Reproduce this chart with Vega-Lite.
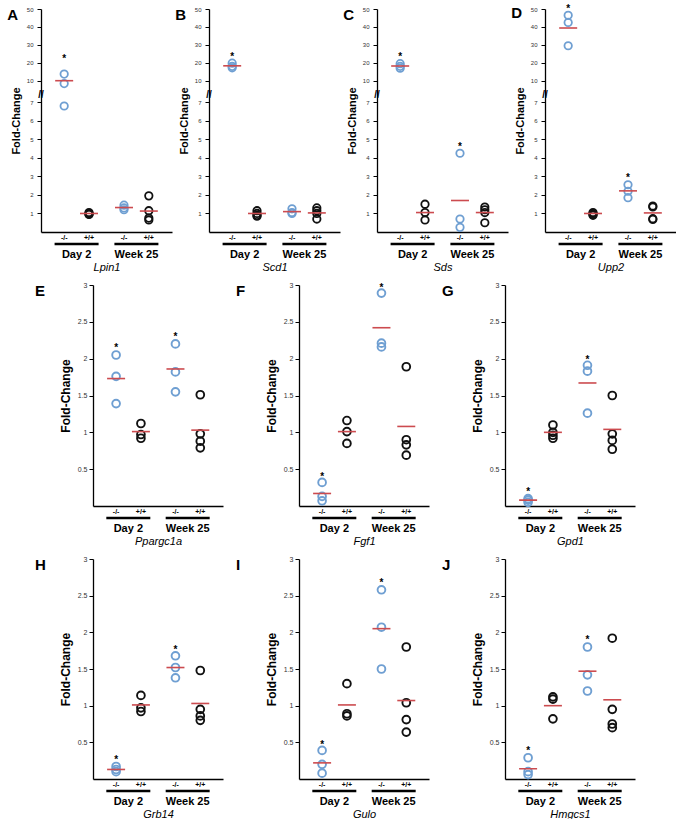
{
"$schema":"https://vega.github.io/schema/vega-lite/v6.json",
"background":"white",
"padding":{"left":7,"top":4,"right":0,"bottom":0},
"datasets":{
"pts":[
{"gene":"Lpin1","time":"Day 2","geno":"-/-","value":13.7},{"gene":"Lpin1","time":"Day 2","geno":"-/-","value":9.6},{"gene":"Lpin1","time":"Day 2","geno":"-/-","value":6.8},
{"gene":"Lpin1","time":"Day 2","geno":"+/+","value":1.05},{"gene":"Lpin1","time":"Day 2","geno":"+/+","value":1.0},{"gene":"Lpin1","time":"Day 2","geno":"+/+","value":0.97},{"gene":"Lpin1","time":"Day 2","geno":"+/+","value":0.95},
{"gene":"Lpin1","time":"Week 25","geno":"-/-","value":1.45},{"gene":"Lpin1","time":"Week 25","geno":"-/-","value":1.3},{"gene":"Lpin1","time":"Week 25","geno":"-/-","value":1.2},
{"gene":"Lpin1","time":"Week 25","geno":"+/+","value":1.95},{"gene":"Lpin1","time":"Week 25","geno":"+/+","value":1.15},{"gene":"Lpin1","time":"Week 25","geno":"+/+","value":0.75},{"gene":"Lpin1","time":"Week 25","geno":"+/+","value":0.65},
{"gene":"Scd1","time":"Day 2","geno":"-/-","value":19.8},{"gene":"Scd1","time":"Day 2","geno":"-/-","value":18},{"gene":"Scd1","time":"Day 2","geno":"-/-","value":17.2},
{"gene":"Scd1","time":"Day 2","geno":"+/+","value":1.15},{"gene":"Scd1","time":"Day 2","geno":"+/+","value":1.0},{"gene":"Scd1","time":"Day 2","geno":"+/+","value":0.9},{"gene":"Scd1","time":"Day 2","geno":"+/+","value":0.85},
{"gene":"Scd1","time":"Week 25","geno":"-/-","value":1.25},{"gene":"Scd1","time":"Week 25","geno":"-/-","value":1.05},{"gene":"Scd1","time":"Week 25","geno":"-/-","value":1.0},
{"gene":"Scd1","time":"Week 25","geno":"+/+","value":1.3},{"gene":"Scd1","time":"Week 25","geno":"+/+","value":1.15},{"gene":"Scd1","time":"Week 25","geno":"+/+","value":1.0},{"gene":"Scd1","time":"Week 25","geno":"+/+","value":0.7},
{"gene":"Sds","time":"Day 2","geno":"-/-","value":19.5},{"gene":"Sds","time":"Day 2","geno":"-/-","value":18},{"gene":"Sds","time":"Day 2","geno":"-/-","value":17},
{"gene":"Sds","time":"Day 2","geno":"+/+","value":1.5},{"gene":"Sds","time":"Day 2","geno":"+/+","value":1.05},{"gene":"Sds","time":"Day 2","geno":"+/+","value":0.65},
{"gene":"Sds","time":"Week 25","geno":"-/-","value":4.25},{"gene":"Sds","time":"Week 25","geno":"-/-","value":0.7},{"gene":"Sds","time":"Week 25","geno":"-/-","value":0.25},
{"gene":"Sds","time":"Week 25","geno":"+/+","value":1.35},{"gene":"Sds","time":"Week 25","geno":"+/+","value":1.2},{"gene":"Sds","time":"Week 25","geno":"+/+","value":1.05},{"gene":"Sds","time":"Week 25","geno":"+/+","value":0.5},
{"gene":"Upp2","time":"Day 2","geno":"-/-","value":46.5},{"gene":"Upp2","time":"Day 2","geno":"-/-","value":42.5},{"gene":"Upp2","time":"Day 2","geno":"-/-","value":29.5},
{"gene":"Upp2","time":"Day 2","geno":"+/+","value":1.05},{"gene":"Upp2","time":"Day 2","geno":"+/+","value":1.0},{"gene":"Upp2","time":"Day 2","geno":"+/+","value":0.95},{"gene":"Upp2","time":"Day 2","geno":"+/+","value":0.9},
{"gene":"Upp2","time":"Week 25","geno":"-/-","value":2.55},{"gene":"Upp2","time":"Week 25","geno":"-/-","value":2.2},{"gene":"Upp2","time":"Week 25","geno":"-/-","value":1.85},
{"gene":"Upp2","time":"Week 25","geno":"+/+","value":1.4},{"gene":"Upp2","time":"Week 25","geno":"+/+","value":1.35},{"gene":"Upp2","time":"Week 25","geno":"+/+","value":0.72},{"gene":"Upp2","time":"Week 25","geno":"+/+","value":0.68},
{"gene":"Ppargc1a","time":"Day 2","geno":"-/-","value":2.05},{"gene":"Ppargc1a","time":"Day 2","geno":"-/-","value":1.76},{"gene":"Ppargc1a","time":"Day 2","geno":"-/-","value":1.39},
{"gene":"Ppargc1a","time":"Day 2","geno":"+/+","value":1.12},{"gene":"Ppargc1a","time":"Day 2","geno":"+/+","value":0.97},{"gene":"Ppargc1a","time":"Day 2","geno":"+/+","value":0.92},
{"gene":"Ppargc1a","time":"Week 25","geno":"-/-","value":2.2},{"gene":"Ppargc1a","time":"Week 25","geno":"-/-","value":1.82},{"gene":"Ppargc1a","time":"Week 25","geno":"-/-","value":1.55},
{"gene":"Ppargc1a","time":"Week 25","geno":"+/+","value":1.51},{"gene":"Ppargc1a","time":"Week 25","geno":"+/+","value":0.98},{"gene":"Ppargc1a","time":"Week 25","geno":"+/+","value":0.88},{"gene":"Ppargc1a","time":"Week 25","geno":"+/+","value":0.79},
{"gene":"Fgf1","time":"Day 2","geno":"-/-","value":0.32},{"gene":"Fgf1","time":"Day 2","geno":"-/-","value":0.13},{"gene":"Fgf1","time":"Day 2","geno":"-/-","value":0.07},
{"gene":"Fgf1","time":"Day 2","geno":"+/+","value":1.16},{"gene":"Fgf1","time":"Day 2","geno":"+/+","value":1.01},{"gene":"Fgf1","time":"Day 2","geno":"+/+","value":0.85},
{"gene":"Fgf1","time":"Week 25","geno":"-/-","value":2.89},{"gene":"Fgf1","time":"Week 25","geno":"-/-","value":2.21},{"gene":"Fgf1","time":"Week 25","geno":"-/-","value":2.16},
{"gene":"Fgf1","time":"Week 25","geno":"+/+","value":1.89},{"gene":"Fgf1","time":"Week 25","geno":"+/+","value":0.9},{"gene":"Fgf1","time":"Week 25","geno":"+/+","value":0.83},{"gene":"Fgf1","time":"Week 25","geno":"+/+","value":0.69},
{"gene":"Gpd1","time":"Day 2","geno":"-/-","value":0.1},{"gene":"Gpd1","time":"Day 2","geno":"-/-","value":0.08},{"gene":"Gpd1","time":"Day 2","geno":"-/-","value":0.05},
{"gene":"Gpd1","time":"Day 2","geno":"+/+","value":1.1},{"gene":"Gpd1","time":"Day 2","geno":"+/+","value":1.0},{"gene":"Gpd1","time":"Day 2","geno":"+/+","value":0.96},{"gene":"Gpd1","time":"Day 2","geno":"+/+","value":0.92},
{"gene":"Gpd1","time":"Week 25","geno":"-/-","value":1.91},{"gene":"Gpd1","time":"Week 25","geno":"-/-","value":1.83},{"gene":"Gpd1","time":"Week 25","geno":"-/-","value":1.26},
{"gene":"Gpd1","time":"Week 25","geno":"+/+","value":1.5},{"gene":"Gpd1","time":"Week 25","geno":"+/+","value":0.98},{"gene":"Gpd1","time":"Week 25","geno":"+/+","value":0.89},{"gene":"Gpd1","time":"Week 25","geno":"+/+","value":0.77},
{"gene":"Grb14","time":"Day 2","geno":"-/-","value":0.17},{"gene":"Grb14","time":"Day 2","geno":"-/-","value":0.13},{"gene":"Grb14","time":"Day 2","geno":"-/-","value":0.1},
{"gene":"Grb14","time":"Day 2","geno":"+/+","value":1.14},{"gene":"Grb14","time":"Day 2","geno":"+/+","value":0.97},{"gene":"Grb14","time":"Day 2","geno":"+/+","value":0.92},
{"gene":"Grb14","time":"Week 25","geno":"-/-","value":1.68},{"gene":"Grb14","time":"Week 25","geno":"-/-","value":1.52},{"gene":"Grb14","time":"Week 25","geno":"-/-","value":1.38},
{"gene":"Grb14","time":"Week 25","geno":"+/+","value":1.48},{"gene":"Grb14","time":"Week 25","geno":"+/+","value":0.95},{"gene":"Grb14","time":"Week 25","geno":"+/+","value":0.86},{"gene":"Grb14","time":"Week 25","geno":"+/+","value":0.8},
{"gene":"Gulo","time":"Day 2","geno":"-/-","value":0.39},{"gene":"Gulo","time":"Day 2","geno":"-/-","value":0.2},{"gene":"Gulo","time":"Day 2","geno":"-/-","value":0.08},
{"gene":"Gulo","time":"Day 2","geno":"+/+","value":1.3},{"gene":"Gulo","time":"Day 2","geno":"+/+","value":0.89},{"gene":"Gulo","time":"Day 2","geno":"+/+","value":0.86},
{"gene":"Gulo","time":"Week 25","geno":"-/-","value":2.58},{"gene":"Gulo","time":"Week 25","geno":"-/-","value":2.07},{"gene":"Gulo","time":"Week 25","geno":"-/-","value":1.5},
{"gene":"Gulo","time":"Week 25","geno":"+/+","value":1.8},{"gene":"Gulo","time":"Week 25","geno":"+/+","value":1.04},{"gene":"Gulo","time":"Week 25","geno":"+/+","value":0.81},{"gene":"Gulo","time":"Week 25","geno":"+/+","value":0.64},
{"gene":"Hmgcs1","time":"Day 2","geno":"-/-","value":0.29},{"gene":"Hmgcs1","time":"Day 2","geno":"-/-","value":0.1},{"gene":"Hmgcs1","time":"Day 2","geno":"-/-","value":0.06},
{"gene":"Hmgcs1","time":"Day 2","geno":"+/+","value":1.12},{"gene":"Hmgcs1","time":"Day 2","geno":"+/+","value":1.09},{"gene":"Hmgcs1","time":"Day 2","geno":"+/+","value":0.82},
{"gene":"Hmgcs1","time":"Week 25","geno":"-/-","value":1.8},{"gene":"Hmgcs1","time":"Week 25","geno":"-/-","value":1.42},{"gene":"Hmgcs1","time":"Week 25","geno":"-/-","value":1.2},
{"gene":"Hmgcs1","time":"Week 25","geno":"+/+","value":1.92},{"gene":"Hmgcs1","time":"Week 25","geno":"+/+","value":0.95},{"gene":"Hmgcs1","time":"Week 25","geno":"+/+","value":0.75},{"gene":"Hmgcs1","time":"Week 25","geno":"+/+","value":0.7}
],
"means":[
{"gene":"Lpin1","time":"Day 2","geno":"-/-","value":10.0},{"gene":"Lpin1","time":"Day 2","geno":"+/+","value":1.0},{"gene":"Lpin1","time":"Week 25","geno":"-/-","value":1.32},{"gene":"Lpin1","time":"Week 25","geno":"+/+","value":1.13},
{"gene":"Scd1","time":"Day 2","geno":"-/-","value":18.3},{"gene":"Scd1","time":"Day 2","geno":"+/+","value":1.0},{"gene":"Scd1","time":"Week 25","geno":"-/-","value":1.1},{"gene":"Scd1","time":"Week 25","geno":"+/+","value":1.03},
{"gene":"Sds","time":"Day 2","geno":"-/-","value":18.2},{"gene":"Sds","time":"Day 2","geno":"+/+","value":1.05},{"gene":"Sds","time":"Week 25","geno":"-/-","value":1.7},{"gene":"Sds","time":"Week 25","geno":"+/+","value":1.05},
{"gene":"Upp2","time":"Day 2","geno":"-/-","value":39.4},{"gene":"Upp2","time":"Day 2","geno":"+/+","value":1.0},{"gene":"Upp2","time":"Week 25","geno":"-/-","value":2.22},{"gene":"Upp2","time":"Week 25","geno":"+/+","value":1.03},
{"gene":"Ppargc1a","time":"Day 2","geno":"-/-","value":1.73},{"gene":"Ppargc1a","time":"Day 2","geno":"+/+","value":1.01},{"gene":"Ppargc1a","time":"Week 25","geno":"-/-","value":1.86},{"gene":"Ppargc1a","time":"Week 25","geno":"+/+","value":1.03},
{"gene":"Fgf1","time":"Day 2","geno":"-/-","value":0.17},{"gene":"Fgf1","time":"Day 2","geno":"+/+","value":1.01},{"gene":"Fgf1","time":"Week 25","geno":"-/-","value":2.42},{"gene":"Fgf1","time":"Week 25","geno":"+/+","value":1.08},
{"gene":"Gpd1","time":"Day 2","geno":"-/-","value":0.08},{"gene":"Gpd1","time":"Day 2","geno":"+/+","value":1.0},{"gene":"Gpd1","time":"Week 25","geno":"-/-","value":1.67},{"gene":"Gpd1","time":"Week 25","geno":"+/+","value":1.04},
{"gene":"Grb14","time":"Day 2","geno":"-/-","value":0.13},{"gene":"Grb14","time":"Day 2","geno":"+/+","value":1.01},{"gene":"Grb14","time":"Week 25","geno":"-/-","value":1.52},{"gene":"Grb14","time":"Week 25","geno":"+/+","value":1.03},
{"gene":"Gulo","time":"Day 2","geno":"-/-","value":0.22},{"gene":"Gulo","time":"Day 2","geno":"+/+","value":1.01},{"gene":"Gulo","time":"Week 25","geno":"-/-","value":2.05},{"gene":"Gulo","time":"Week 25","geno":"+/+","value":1.07},
{"gene":"Hmgcs1","time":"Day 2","geno":"-/-","value":0.14},{"gene":"Hmgcs1","time":"Day 2","geno":"+/+","value":1.0},{"gene":"Hmgcs1","time":"Week 25","geno":"-/-","value":1.47},{"gene":"Hmgcs1","time":"Week 25","geno":"+/+","value":1.08}
],
"stars":[
{"gene":"Lpin1","time":"Day 2","value":23.8},{"gene":"Scd1","time":"Day 2","value":25},{"gene":"Sds","time":"Day 2","value":25},{"gene":"Sds","time":"Week 25","value":4.75},
{"gene":"Upp2","time":"Day 2","value":51.5},{"gene":"Upp2","time":"Week 25","value":3.1},
{"gene":"Ppargc1a","time":"Day 2","value":2.19},{"gene":"Ppargc1a","time":"Week 25","value":2.34},
{"gene":"Fgf1","time":"Day 2","value":0.43},{"gene":"Fgf1","time":"Week 25","value":3.0},
{"gene":"Gpd1","time":"Day 2","value":0.23},{"gene":"Gpd1","time":"Week 25","value":2.02},
{"gene":"Grb14","time":"Day 2","value":0.3},{"gene":"Grb14","time":"Week 25","value":1.8},
{"gene":"Gulo","time":"Day 2","value":0.51},{"gene":"Gulo","time":"Week 25","value":2.71},
{"gene":"Hmgcs1","time":"Day 2","value":0.42},{"gene":"Hmgcs1","time":"Week 25","value":1.93}
],
"blank":[{"k":1}]
},
"spacing":9,
"vconcat":[
{"hconcat":[
{"width":131,"height":223,"title":{"text":"A","dx":-3},
"encoding":{"x":{"field":"time","type":"nominal","scale":{"domain":["Day 2","Week 25"],"paddingInner":0.17,"paddingOuter":0.18},"axis":{"title":"Lpin1"}}},
"layer":[
{"data":{"name":"means"},"transform":[{"filter":"datum.gene=='Lpin1'&&datum.geno=='-/-'"}],"mark":{"type":"tick","yOffset":12,"size":44,"thickness":2.5,"color":"#000","opacity":1},"encoding":{"y":{"datum":0,"type":"quantitative","title":"Fold-Change","scale":{"domain":[0,7,10,50],"range":[223,93.3,71.7,0],"nice":false,"zero":false},"axis":{"values":[1,2,3,4,5,6,7,10,20,30,40,50],"tickCount":30,"labelExpr":"''+datum.value","labelFontSize":6,"labelPadding":4,"titleFontSize":11}}}},
{"data":{"name":"blank"},"mark":{"type":"text","text":"//","fontSize":10,"fontWeight":"bold","align":"center","baseline":"middle","color":"#000"},"encoding":{"x":{"datum":"Day 2","bandPosition":-0.218},"y":{"datum":8,"type":"quantitative","title":"Fold-Change"}}},
{"data":{"name":"means"},"transform":[{"filter":"datum.gene=='Lpin1'"}],"mark":{"type":"text","dy":6,"fontSize":7,"fontWeight":"bold","baseline":"middle","color":"#000"},"encoding":{"xOffset":{"field":"geno","type":"nominal","scale":{"domain":["-/-","+/+"]}},"y":{"datum":0,"type":"quantitative","title":"Fold-Change"},"text":{"field":"geno"}}},
{"data":{"name":"pts"},"transform":[{"filter":"datum.gene=='Lpin1'"}],"mark":{"type":"point","filled":false,"size":55,"strokeWidth":1.8,"opacity":1},"encoding":{"xOffset":{"field":"geno","type":"nominal"},"y":{"field":"value","type":"quantitative","title":"Fold-Change"},"stroke":{"field":"geno","type":"nominal","scale":{"domain":["-/-","+/+"],"range":["#6f9fd2","#111111"]},"legend":null}}},
{"data":{"name":"means"},"transform":[{"filter":"datum.gene=='Lpin1'"}],"mark":{"type":"tick","size":18,"thickness":1.6,"color":"#cc4b4f","opacity":1},"encoding":{"xOffset":{"field":"geno","type":"nominal"},"y":{"field":"value","type":"quantitative","title":"Fold-Change"}}},
{"data":{"name":"stars"},"transform":[{"filter":"datum.gene=='Lpin1'"}],"mark":{"type":"text","text":"*","fontSize":10,"fontWeight":"bold","dy":6,"baseline":"alphabetic","color":"#000"},"encoding":{"xOffset":{"datum":"-/-"},"y":{"field":"value","type":"quantitative","title":"Fold-Change"}}}
]},
{"width":131,"height":223,"title":{"text":"B","dx":-3},
"encoding":{"x":{"field":"time","type":"nominal","scale":{"domain":["Day 2","Week 25"],"paddingInner":0.17,"paddingOuter":0.18},"axis":{"title":"Scd1"}}},
"layer":[
{"data":{"name":"means"},"transform":[{"filter":"datum.gene=='Scd1'&&datum.geno=='-/-'"}],"mark":{"type":"tick","yOffset":12,"size":44,"thickness":2.5,"color":"#000","opacity":1},"encoding":{"y":{"datum":0,"type":"quantitative","title":"Fold-Change","scale":{"domain":[0,7,10,50],"range":[223,93.3,71.7,0],"nice":false,"zero":false},"axis":{"values":[1,2,3,4,5,6,7,10,20,30,40,50],"tickCount":30,"labelExpr":"''+datum.value","labelFontSize":6,"labelPadding":4,"titleFontSize":11}}}},
{"data":{"name":"blank"},"mark":{"type":"text","text":"//","fontSize":10,"fontWeight":"bold","align":"center","baseline":"middle","color":"#000"},"encoding":{"x":{"datum":"Day 2","bandPosition":-0.218},"y":{"datum":8,"type":"quantitative","title":"Fold-Change"}}},
{"data":{"name":"means"},"transform":[{"filter":"datum.gene=='Scd1'"}],"mark":{"type":"text","dy":6,"fontSize":7,"fontWeight":"bold","baseline":"middle","color":"#000"},"encoding":{"xOffset":{"field":"geno","type":"nominal","scale":{"domain":["-/-","+/+"]}},"y":{"datum":0,"type":"quantitative","title":"Fold-Change"},"text":{"field":"geno"}}},
{"data":{"name":"pts"},"transform":[{"filter":"datum.gene=='Scd1'"}],"mark":{"type":"point","filled":false,"size":55,"strokeWidth":1.8,"opacity":1},"encoding":{"xOffset":{"field":"geno","type":"nominal"},"y":{"field":"value","type":"quantitative","title":"Fold-Change"},"stroke":{"field":"geno","type":"nominal","scale":{"domain":["-/-","+/+"],"range":["#6f9fd2","#111111"]},"legend":null}}},
{"data":{"name":"means"},"transform":[{"filter":"datum.gene=='Scd1'"}],"mark":{"type":"tick","size":18,"thickness":1.6,"color":"#cc4b4f","opacity":1},"encoding":{"xOffset":{"field":"geno","type":"nominal"},"y":{"field":"value","type":"quantitative","title":"Fold-Change"}}},
{"data":{"name":"stars"},"transform":[{"filter":"datum.gene=='Scd1'"}],"mark":{"type":"text","text":"*","fontSize":10,"fontWeight":"bold","dy":6,"baseline":"alphabetic","color":"#000"},"encoding":{"xOffset":{"datum":"-/-"},"y":{"field":"value","type":"quantitative","title":"Fold-Change"}}}
]},
{"width":131,"height":223,"title":{"text":"C","dx":-3},
"encoding":{"x":{"field":"time","type":"nominal","scale":{"domain":["Day 2","Week 25"],"paddingInner":0.17,"paddingOuter":0.18},"axis":{"title":"Sds"}}},
"layer":[
{"data":{"name":"means"},"transform":[{"filter":"datum.gene=='Sds'&&datum.geno=='-/-'"}],"mark":{"type":"tick","yOffset":12,"size":44,"thickness":2.5,"color":"#000","opacity":1},"encoding":{"y":{"datum":0,"type":"quantitative","title":"Fold-Change","scale":{"domain":[0,7,10,50],"range":[223,93.3,71.7,0],"nice":false,"zero":false},"axis":{"values":[1,2,3,4,5,6,7,10,20,30,40,50],"tickCount":30,"labelExpr":"''+datum.value","labelFontSize":6,"labelPadding":4,"titleFontSize":11}}}},
{"data":{"name":"blank"},"mark":{"type":"text","text":"//","fontSize":10,"fontWeight":"bold","align":"center","baseline":"middle","color":"#000"},"encoding":{"x":{"datum":"Day 2","bandPosition":-0.218},"y":{"datum":8,"type":"quantitative","title":"Fold-Change"}}},
{"data":{"name":"means"},"transform":[{"filter":"datum.gene=='Sds'"}],"mark":{"type":"text","dy":6,"fontSize":7,"fontWeight":"bold","baseline":"middle","color":"#000"},"encoding":{"xOffset":{"field":"geno","type":"nominal","scale":{"domain":["-/-","+/+"]}},"y":{"datum":0,"type":"quantitative","title":"Fold-Change"},"text":{"field":"geno"}}},
{"data":{"name":"pts"},"transform":[{"filter":"datum.gene=='Sds'"}],"mark":{"type":"point","filled":false,"size":55,"strokeWidth":1.8,"opacity":1},"encoding":{"xOffset":{"field":"geno","type":"nominal"},"y":{"field":"value","type":"quantitative","title":"Fold-Change"},"stroke":{"field":"geno","type":"nominal","scale":{"domain":["-/-","+/+"],"range":["#6f9fd2","#111111"]},"legend":null}}},
{"data":{"name":"means"},"transform":[{"filter":"datum.gene=='Sds'"}],"mark":{"type":"tick","size":18,"thickness":1.6,"color":"#cc4b4f","opacity":1},"encoding":{"xOffset":{"field":"geno","type":"nominal"},"y":{"field":"value","type":"quantitative","title":"Fold-Change"}}},
{"data":{"name":"stars"},"transform":[{"filter":"datum.gene=='Sds'"}],"mark":{"type":"text","text":"*","fontSize":10,"fontWeight":"bold","dy":6,"baseline":"alphabetic","color":"#000"},"encoding":{"xOffset":{"datum":"-/-"},"y":{"field":"value","type":"quantitative","title":"Fold-Change"}}}
]},
{"width":131,"height":223,"title":{"text":"D","dx":-3},
"encoding":{"x":{"field":"time","type":"nominal","scale":{"domain":["Day 2","Week 25"],"paddingInner":0.17,"paddingOuter":0.18},"axis":{"title":"Upp2"}}},
"layer":[
{"data":{"name":"means"},"transform":[{"filter":"datum.gene=='Upp2'&&datum.geno=='-/-'"}],"mark":{"type":"tick","yOffset":12,"size":44,"thickness":2.5,"color":"#000","opacity":1},"encoding":{"y":{"datum":0,"type":"quantitative","title":"Fold-Change","scale":{"domain":[0,7,10,50],"range":[223,93.3,71.7,0],"nice":false,"zero":false},"axis":{"values":[1,2,3,4,5,6,7,10,20,30,40,50],"tickCount":30,"labelExpr":"''+datum.value","labelFontSize":6,"labelPadding":4,"titleFontSize":11}}}},
{"data":{"name":"blank"},"mark":{"type":"text","text":"//","fontSize":10,"fontWeight":"bold","align":"center","baseline":"middle","color":"#000"},"encoding":{"x":{"datum":"Day 2","bandPosition":-0.218},"y":{"datum":8,"type":"quantitative","title":"Fold-Change"}}},
{"data":{"name":"means"},"transform":[{"filter":"datum.gene=='Upp2'"}],"mark":{"type":"text","dy":6,"fontSize":7,"fontWeight":"bold","baseline":"middle","color":"#000"},"encoding":{"xOffset":{"field":"geno","type":"nominal","scale":{"domain":["-/-","+/+"]}},"y":{"datum":0,"type":"quantitative","title":"Fold-Change"},"text":{"field":"geno"}}},
{"data":{"name":"pts"},"transform":[{"filter":"datum.gene=='Upp2'"}],"mark":{"type":"point","filled":false,"size":55,"strokeWidth":1.8,"opacity":1},"encoding":{"xOffset":{"field":"geno","type":"nominal"},"y":{"field":"value","type":"quantitative","title":"Fold-Change"},"stroke":{"field":"geno","type":"nominal","scale":{"domain":["-/-","+/+"],"range":["#6f9fd2","#111111"]},"legend":null}}},
{"data":{"name":"means"},"transform":[{"filter":"datum.gene=='Upp2'"}],"mark":{"type":"tick","size":18,"thickness":1.6,"color":"#cc4b4f","opacity":1},"encoding":{"xOffset":{"field":"geno","type":"nominal"},"y":{"field":"value","type":"quantitative","title":"Fold-Change"}}},
{"data":{"name":"stars"},"transform":[{"filter":"datum.gene=='Upp2'"}],"mark":{"type":"text","text":"*","fontSize":10,"fontWeight":"bold","dy":6,"baseline":"alphabetic","color":"#000"},"encoding":{"xOffset":{"datum":"-/-"},"y":{"field":"value","type":"quantitative","title":"Fold-Change"}}}
]}
],"spacing":3},
{"hconcat":[
{"width":2,"height":10,"title":{"text":"E","dx":-6,"offset":-14},"data":{"name":"blank"},"mark":{"type":"rect","opacity":0},"encoding":{}},
{"width":130,"height":221,
"encoding":{"x":{"field":"time","type":"nominal","scale":{"domain":["Day 2","Week 25"],"paddingInner":0.17,"paddingOuter":0.18},"axis":{"title":"Ppargc1a"}}},
"layer":[
{"data":{"name":"means"},"transform":[{"filter":"datum.gene=='Ppargc1a'&&datum.geno=='-/-'"}],"mark":{"type":"tick","yOffset":12,"size":44,"thickness":2.5,"color":"#000","opacity":1},"encoding":{"y":{"datum":0,"type":"quantitative","title":"Fold-Change","scale":{"domain":[0,3],"nice":false,"zero":false},"axis":{"values":[0.5,1,1.5,2,2.5,3],"tickCount":30,"labelExpr":"''+datum.value","labelFontSize":7,"labelPadding":2,"titleFontSize":12}}}},
{"data":{"name":"means"},"transform":[{"filter":"datum.gene=='Ppargc1a'"}],"mark":{"type":"text","dy":6,"fontSize":7,"fontWeight":"bold","baseline":"middle","color":"#000"},"encoding":{"xOffset":{"field":"geno","type":"nominal","scale":{"domain":["-/-","+/+"]}},"y":{"datum":0,"type":"quantitative","title":"Fold-Change"},"text":{"field":"geno"}}},
{"data":{"name":"pts"},"transform":[{"filter":"datum.gene=='Ppargc1a'"}],"mark":{"type":"point","filled":false,"size":60,"strokeWidth":1.9,"opacity":1},"encoding":{"xOffset":{"field":"geno","type":"nominal"},"y":{"field":"value","type":"quantitative","title":"Fold-Change"},"stroke":{"field":"geno","type":"nominal","scale":{"domain":["-/-","+/+"],"range":["#6f9fd2","#111111"]},"legend":null}}},
{"data":{"name":"means"},"transform":[{"filter":"datum.gene=='Ppargc1a'"}],"mark":{"type":"tick","size":18,"thickness":1.6,"color":"#cc4b4f","opacity":1},"encoding":{"xOffset":{"field":"geno","type":"nominal"},"y":{"field":"value","type":"quantitative","title":"Fold-Change"}}},
{"data":{"name":"stars"},"transform":[{"filter":"datum.gene=='Ppargc1a'"}],"mark":{"type":"text","text":"*","fontSize":10,"fontWeight":"bold","dy":6,"baseline":"alphabetic","color":"#000"},"encoding":{"xOffset":{"datum":"-/-"},"y":{"field":"value","type":"quantitative","title":"Fold-Change"}}}
]},
{"width":16,"height":10,"title":{"text":"F","offset":-14},"data":{"name":"blank"},"mark":{"type":"rect","opacity":0},"encoding":{}},
{"width":130,"height":221,
"encoding":{"x":{"field":"time","type":"nominal","scale":{"domain":["Day 2","Week 25"],"paddingInner":0.17,"paddingOuter":0.18},"axis":{"title":"Fgf1"}}},
"layer":[
{"data":{"name":"means"},"transform":[{"filter":"datum.gene=='Fgf1'&&datum.geno=='-/-'"}],"mark":{"type":"tick","yOffset":12,"size":44,"thickness":2.5,"color":"#000","opacity":1},"encoding":{"y":{"datum":0,"type":"quantitative","title":"Fold-Change","scale":{"domain":[0,3],"nice":false,"zero":false},"axis":{"values":[0.5,1,1.5,2,2.5,3],"tickCount":30,"labelExpr":"''+datum.value","labelFontSize":7,"labelPadding":2,"titleFontSize":12}}}},
{"data":{"name":"means"},"transform":[{"filter":"datum.gene=='Fgf1'"}],"mark":{"type":"text","dy":6,"fontSize":7,"fontWeight":"bold","baseline":"middle","color":"#000"},"encoding":{"xOffset":{"field":"geno","type":"nominal","scale":{"domain":["-/-","+/+"]}},"y":{"datum":0,"type":"quantitative","title":"Fold-Change"},"text":{"field":"geno"}}},
{"data":{"name":"pts"},"transform":[{"filter":"datum.gene=='Fgf1'"}],"mark":{"type":"point","filled":false,"size":60,"strokeWidth":1.9,"opacity":1},"encoding":{"xOffset":{"field":"geno","type":"nominal"},"y":{"field":"value","type":"quantitative","title":"Fold-Change"},"stroke":{"field":"geno","type":"nominal","scale":{"domain":["-/-","+/+"],"range":["#6f9fd2","#111111"]},"legend":null}}},
{"data":{"name":"means"},"transform":[{"filter":"datum.gene=='Fgf1'"}],"mark":{"type":"tick","size":18,"thickness":1.6,"color":"#cc4b4f","opacity":1},"encoding":{"xOffset":{"field":"geno","type":"nominal"},"y":{"field":"value","type":"quantitative","title":"Fold-Change"}}},
{"data":{"name":"stars"},"transform":[{"filter":"datum.gene=='Fgf1'"}],"mark":{"type":"text","text":"*","fontSize":10,"fontWeight":"bold","dy":6,"baseline":"alphabetic","color":"#000"},"encoding":{"xOffset":{"datum":"-/-"},"y":{"field":"value","type":"quantitative","title":"Fold-Change"}}}
]},
{"width":16,"height":10,"title":{"text":"G","offset":-14},"data":{"name":"blank"},"mark":{"type":"rect","opacity":0},"encoding":{}},
{"width":130,"height":221,
"encoding":{"x":{"field":"time","type":"nominal","scale":{"domain":["Day 2","Week 25"],"paddingInner":0.17,"paddingOuter":0.18},"axis":{"title":"Gpd1"}}},
"layer":[
{"data":{"name":"means"},"transform":[{"filter":"datum.gene=='Gpd1'&&datum.geno=='-/-'"}],"mark":{"type":"tick","yOffset":12,"size":44,"thickness":2.5,"color":"#000","opacity":1},"encoding":{"y":{"datum":0,"type":"quantitative","title":"Fold-Change","scale":{"domain":[0,3],"nice":false,"zero":false},"axis":{"values":[0.5,1,1.5,2,2.5,3],"tickCount":30,"labelExpr":"''+datum.value","labelFontSize":7,"labelPadding":2,"titleFontSize":12}}}},
{"data":{"name":"means"},"transform":[{"filter":"datum.gene=='Gpd1'"}],"mark":{"type":"text","dy":6,"fontSize":7,"fontWeight":"bold","baseline":"middle","color":"#000"},"encoding":{"xOffset":{"field":"geno","type":"nominal","scale":{"domain":["-/-","+/+"]}},"y":{"datum":0,"type":"quantitative","title":"Fold-Change"},"text":{"field":"geno"}}},
{"data":{"name":"pts"},"transform":[{"filter":"datum.gene=='Gpd1'"}],"mark":{"type":"point","filled":false,"size":60,"strokeWidth":1.9,"opacity":1},"encoding":{"xOffset":{"field":"geno","type":"nominal"},"y":{"field":"value","type":"quantitative","title":"Fold-Change"},"stroke":{"field":"geno","type":"nominal","scale":{"domain":["-/-","+/+"],"range":["#6f9fd2","#111111"]},"legend":null}}},
{"data":{"name":"means"},"transform":[{"filter":"datum.gene=='Gpd1'"}],"mark":{"type":"tick","size":18,"thickness":1.6,"color":"#cc4b4f","opacity":1},"encoding":{"xOffset":{"field":"geno","type":"nominal"},"y":{"field":"value","type":"quantitative","title":"Fold-Change"}}},
{"data":{"name":"stars"},"transform":[{"filter":"datum.gene=='Gpd1'"}],"mark":{"type":"text","text":"*","fontSize":10,"fontWeight":"bold","dy":6,"baseline":"alphabetic","color":"#000"},"encoding":{"xOffset":{"datum":"-/-"},"y":{"field":"value","type":"quantitative","title":"Fold-Change"}}}
]}
],"spacing":13},
{"hconcat":[
{"width":2,"height":10,"title":{"text":"H","dx":-6,"offset":-14},"data":{"name":"blank"},"mark":{"type":"rect","opacity":0},"encoding":{}},
{"width":130,"height":220,
"encoding":{"x":{"field":"time","type":"nominal","scale":{"domain":["Day 2","Week 25"],"paddingInner":0.17,"paddingOuter":0.18},"axis":{"title":"Grb14"}}},
"layer":[
{"data":{"name":"means"},"transform":[{"filter":"datum.gene=='Grb14'&&datum.geno=='-/-'"}],"mark":{"type":"tick","yOffset":12,"size":44,"thickness":2.5,"color":"#000","opacity":1},"encoding":{"y":{"datum":0,"type":"quantitative","title":"Fold-Change","scale":{"domain":[0,3],"nice":false,"zero":false},"axis":{"values":[0.5,1,1.5,2,2.5,3],"tickCount":30,"labelExpr":"''+datum.value","labelFontSize":7,"labelPadding":2,"titleFontSize":12}}}},
{"data":{"name":"means"},"transform":[{"filter":"datum.gene=='Grb14'"}],"mark":{"type":"text","dy":6,"fontSize":7,"fontWeight":"bold","baseline":"middle","color":"#000"},"encoding":{"xOffset":{"field":"geno","type":"nominal","scale":{"domain":["-/-","+/+"]}},"y":{"datum":0,"type":"quantitative","title":"Fold-Change"},"text":{"field":"geno"}}},
{"data":{"name":"pts"},"transform":[{"filter":"datum.gene=='Grb14'"}],"mark":{"type":"point","filled":false,"size":60,"strokeWidth":1.9,"opacity":1},"encoding":{"xOffset":{"field":"geno","type":"nominal"},"y":{"field":"value","type":"quantitative","title":"Fold-Change"},"stroke":{"field":"geno","type":"nominal","scale":{"domain":["-/-","+/+"],"range":["#6f9fd2","#111111"]},"legend":null}}},
{"data":{"name":"means"},"transform":[{"filter":"datum.gene=='Grb14'"}],"mark":{"type":"tick","size":18,"thickness":1.6,"color":"#cc4b4f","opacity":1},"encoding":{"xOffset":{"field":"geno","type":"nominal"},"y":{"field":"value","type":"quantitative","title":"Fold-Change"}}},
{"data":{"name":"stars"},"transform":[{"filter":"datum.gene=='Grb14'"}],"mark":{"type":"text","text":"*","fontSize":10,"fontWeight":"bold","dy":6,"baseline":"alphabetic","color":"#000"},"encoding":{"xOffset":{"datum":"-/-"},"y":{"field":"value","type":"quantitative","title":"Fold-Change"}}}
]},
{"width":16,"height":10,"title":{"text":"I","offset":-14},"data":{"name":"blank"},"mark":{"type":"rect","opacity":0},"encoding":{}},
{"width":130,"height":220,
"encoding":{"x":{"field":"time","type":"nominal","scale":{"domain":["Day 2","Week 25"],"paddingInner":0.17,"paddingOuter":0.18},"axis":{"title":"Gulo"}}},
"layer":[
{"data":{"name":"means"},"transform":[{"filter":"datum.gene=='Gulo'&&datum.geno=='-/-'"}],"mark":{"type":"tick","yOffset":12,"size":44,"thickness":2.5,"color":"#000","opacity":1},"encoding":{"y":{"datum":0,"type":"quantitative","title":"Fold-Change","scale":{"domain":[0,3],"nice":false,"zero":false},"axis":{"values":[0.5,1,1.5,2,2.5,3],"tickCount":30,"labelExpr":"''+datum.value","labelFontSize":7,"labelPadding":2,"titleFontSize":12}}}},
{"data":{"name":"means"},"transform":[{"filter":"datum.gene=='Gulo'"}],"mark":{"type":"text","dy":6,"fontSize":7,"fontWeight":"bold","baseline":"middle","color":"#000"},"encoding":{"xOffset":{"field":"geno","type":"nominal","scale":{"domain":["-/-","+/+"]}},"y":{"datum":0,"type":"quantitative","title":"Fold-Change"},"text":{"field":"geno"}}},
{"data":{"name":"pts"},"transform":[{"filter":"datum.gene=='Gulo'"}],"mark":{"type":"point","filled":false,"size":60,"strokeWidth":1.9,"opacity":1},"encoding":{"xOffset":{"field":"geno","type":"nominal"},"y":{"field":"value","type":"quantitative","title":"Fold-Change"},"stroke":{"field":"geno","type":"nominal","scale":{"domain":["-/-","+/+"],"range":["#6f9fd2","#111111"]},"legend":null}}},
{"data":{"name":"means"},"transform":[{"filter":"datum.gene=='Gulo'"}],"mark":{"type":"tick","size":18,"thickness":1.6,"color":"#cc4b4f","opacity":1},"encoding":{"xOffset":{"field":"geno","type":"nominal"},"y":{"field":"value","type":"quantitative","title":"Fold-Change"}}},
{"data":{"name":"stars"},"transform":[{"filter":"datum.gene=='Gulo'"}],"mark":{"type":"text","text":"*","fontSize":10,"fontWeight":"bold","dy":6,"baseline":"alphabetic","color":"#000"},"encoding":{"xOffset":{"datum":"-/-"},"y":{"field":"value","type":"quantitative","title":"Fold-Change"}}}
]},
{"width":16,"height":10,"title":{"text":"J","offset":-14},"data":{"name":"blank"},"mark":{"type":"rect","opacity":0},"encoding":{}},
{"width":130,"height":220,
"encoding":{"x":{"field":"time","type":"nominal","scale":{"domain":["Day 2","Week 25"],"paddingInner":0.17,"paddingOuter":0.18},"axis":{"title":"Hmgcs1"}}},
"layer":[
{"data":{"name":"means"},"transform":[{"filter":"datum.gene=='Hmgcs1'&&datum.geno=='-/-'"}],"mark":{"type":"tick","yOffset":12,"size":44,"thickness":2.5,"color":"#000","opacity":1},"encoding":{"y":{"datum":0,"type":"quantitative","title":"Fold-Change","scale":{"domain":[0,3],"nice":false,"zero":false},"axis":{"values":[0.5,1,1.5,2,2.5,3],"tickCount":30,"labelExpr":"''+datum.value","labelFontSize":7,"labelPadding":2,"titleFontSize":12}}}},
{"data":{"name":"means"},"transform":[{"filter":"datum.gene=='Hmgcs1'"}],"mark":{"type":"text","dy":6,"fontSize":7,"fontWeight":"bold","baseline":"middle","color":"#000"},"encoding":{"xOffset":{"field":"geno","type":"nominal","scale":{"domain":["-/-","+/+"]}},"y":{"datum":0,"type":"quantitative","title":"Fold-Change"},"text":{"field":"geno"}}},
{"data":{"name":"pts"},"transform":[{"filter":"datum.gene=='Hmgcs1'"}],"mark":{"type":"point","filled":false,"size":60,"strokeWidth":1.9,"opacity":1},"encoding":{"xOffset":{"field":"geno","type":"nominal"},"y":{"field":"value","type":"quantitative","title":"Fold-Change"},"stroke":{"field":"geno","type":"nominal","scale":{"domain":["-/-","+/+"],"range":["#6f9fd2","#111111"]},"legend":null}}},
{"data":{"name":"means"},"transform":[{"filter":"datum.gene=='Hmgcs1'"}],"mark":{"type":"tick","size":18,"thickness":1.6,"color":"#cc4b4f","opacity":1},"encoding":{"xOffset":{"field":"geno","type":"nominal"},"y":{"field":"value","type":"quantitative","title":"Fold-Change"}}},
{"data":{"name":"stars"},"transform":[{"filter":"datum.gene=='Hmgcs1'"}],"mark":{"type":"text","text":"*","fontSize":10,"fontWeight":"bold","dy":6,"baseline":"alphabetic","color":"#000"},"encoding":{"xOffset":{"datum":"-/-"},"y":{"field":"value","type":"quantitative","title":"Fold-Change"}}}
]}
],"spacing":13}
],
"config":{
"view":{"stroke":null},
"font":"Liberation Sans",
"title":{"anchor":"start","frame":"bounds","offset":-17,"fontSize":15,"fontWeight":"bold","color":"#000","font":"Liberation Sans"},
"axis":{"grid":false,"domainColor":"#000","domainWidth":1.3,"tickColor":"#000","labelColor":"#333","titleColor":"#000","labelOverlap":false,"labelFont":"Liberation Sans","titleFont":"Liberation Sans"},
"axisX":{"ticks":false,"tickSize":0,"labelPadding":16,"labelFontSize":11,"labelFontWeight":"bold","labelColor":"#000","labelAngle":0,"titleFontSize":11,"titleFontStyle":"italic","titleFontWeight":"normal","titlePadding":2},
"axisY":{"tickSize":4,"labelPadding":3,"titleFontWeight":"bold","titlePadding":5}
}
}
